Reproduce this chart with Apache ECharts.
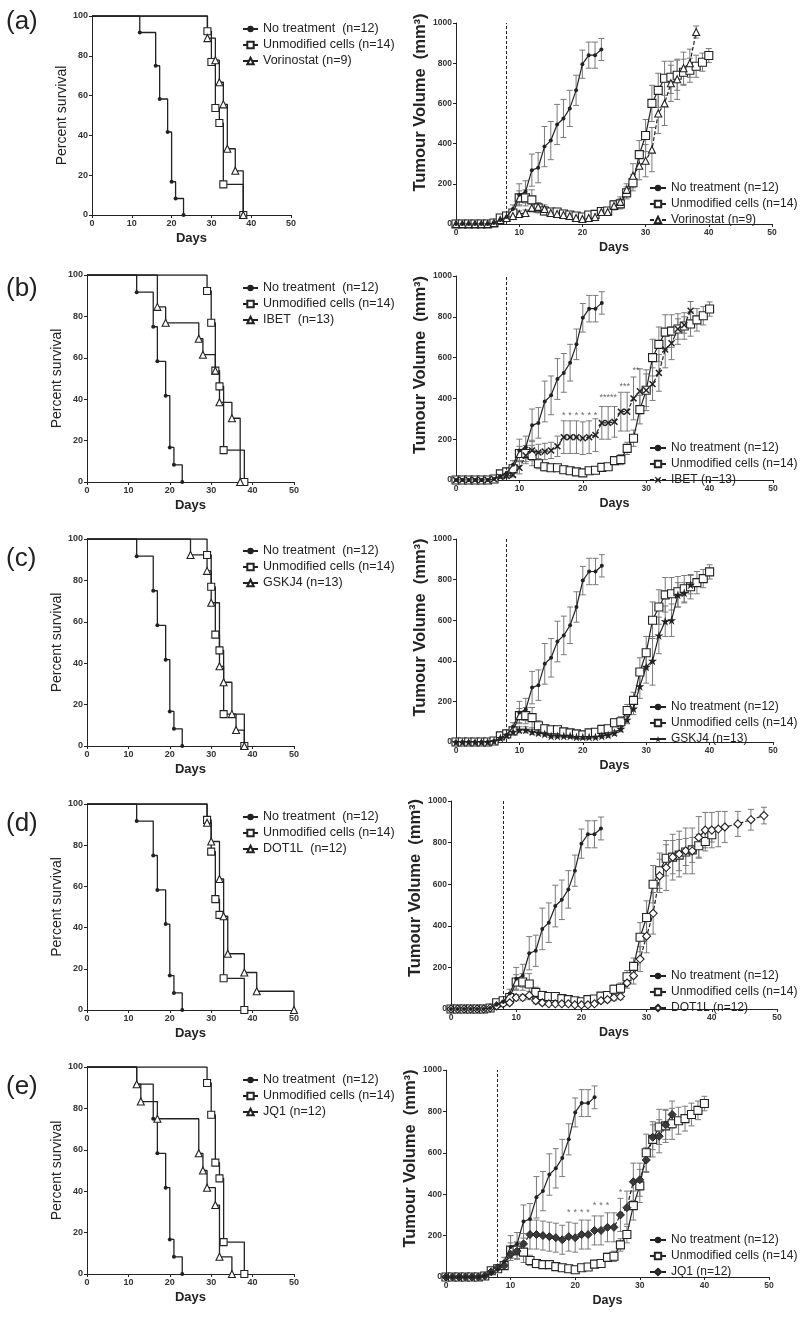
<!DOCTYPE html>
<html><head><meta charset="utf-8">
<script src="https://cdn.jsdelivr.net/npm/echarts@6/dist/echarts.min.js"></script>
<style>html,body{margin:0;padding:0;background:#fff}#c{width:800px;height:1317px}</style>
</head><body><div id="c"></div>
<script>
// ---------------- DATA ----------------
// Kaplan-Meier survival: [day, percent survival]
const noTreatSurv = [[0,100],[12,91.7],[16,75],[17,58.3],[19,41.7],[20,16.7],[21,8.3],[23,0]];
const unmodSurv   = [[0,100],[29,92.3],[30,76.9],[31,53.8],[32,46.2],[33,15.4],[38,0]];
const vorinoSurv  = [[0,100],[29,88.9],[31,77.8],[32,66.7],[33,55.6],[34,33.3],[36,22.2],[38,0]];
const ibetSurv    = [[0,100],[17,84.6],[19,76.9],[27,69.2],[28,61.5],[31,53.8],[32,38.5],[35,30.8],[37,0]];
const gskSurv     = [[0,100],[25,92.3],[29,84.6],[30,69.2],[32,38.5],[33,30.8],[35,15.4],[36,7.7],[38,0]];
const dotSurv     = [[0,100],[29,90.9],[30,81.8],[32,63.6],[33,45.5],[34,27.3],[38,18.2],[41,9.1],[50,0]];
const jqSurv      = [[0,100],[12,91.7],[13,83.3],[17,75],[27,58.3],[28,50],[29,41.7],[31,33.3],[32,8.3],[35,0]];

// Tumour volume (mm3), mean and error, index = day (unless a day list is given)
const noTreatVol = [0,0,0,0,0,0,5,20,35,75,145,160,268,280,385,415,495,525,575,665,795,840,840,868];
const noTreatErr = [0,0,0,0,0,0,3,8,10,20,55,55,80,75,100,95,100,95,90,75,70,65,65,55];
const unmodVol = [0,0,0,0,0,0,5,30,40,55,130,130,120,80,65,60,60,50,45,40,35,45,48,62,65,95,100,155,205,345,440,600,665,725,730,740,755,765,785,805,838];
const unmodErr = [0,0,0,0,0,0,3,10,10,15,35,40,50,25,20,15,15,12,12,12,12,12,12,15,15,20,25,30,40,70,80,90,85,85,80,75,65,60,55,45,35];
const vorinoVol = [0,0,0,0,0,0,5,20,30,40,50,55,80,85,75,55,50,45,40,30,25,30,35,60,60,90,110,170,240,290,315,370,550,600,700,720,775,800,955];
const vorinoErr = [0,0,0,0,0,0,3,8,10,10,15,15,20,20,20,15,15,12,12,10,10,10,10,15,15,20,25,30,60,70,80,110,100,110,90,100,80,70,30];
const ibetVol = [0,0,0,0,0,0,5,15,20,25,60,120,145,135,140,145,165,210,210,210,205,210,220,280,280,285,335,335,400,435,440,470,525,640,670,740,760,830];
const ibetErr = [0,0,0,0,0,0,3,8,10,10,30,40,50,40,40,40,50,80,80,80,80,80,80,80,80,75,95,95,105,110,100,80,90,90,80,50,40,45];
const gskVol = [0,0,0,0,0,0,5,20,35,50,60,60,50,45,40,30,30,30,30,25,25,25,25,30,35,45,65,110,165,275,370,400,525,595,600,725,735,775];
const gskErr = [0,0,0,0,0,0,3,8,10,10,15,15,12,10,10,8,8,8,8,8,8,8,8,8,10,12,15,20,30,60,80,120,90,75,80,60,50,45];
const dotDays = [0,1,2,3,4,5,6,7,8,9,10,11,12,13,14,15,16,17,18,19,20,21,22,23,24,25,26,27,28,29,30,31,32,33,34,35,36,37,38,39,40,41,42,44,46,48];
const dotVol = [0,0,0,0,0,0,5,15,25,30,55,55,65,40,30,25,25,25,25,20,20,20,25,40,45,55,60,125,160,240,350,460,640,680,730,745,760,760,825,860,860,865,875,890,910,930];
const dotErr = [0,0,0,0,0,0,3,8,10,10,15,15,20,15,10,8,8,8,8,8,8,8,8,10,12,15,15,25,40,60,80,100,80,110,110,110,110,110,100,85,85,85,75,60,50,40];
const jqVol = [0,0,0,0,0,0,5,25,45,55,110,125,160,205,205,200,195,190,180,195,190,205,205,225,225,240,240,300,335,460,470,565,675,680,735,785];
const jqErr = [0,0,0,0,0,0,3,10,15,15,30,40,50,70,70,70,70,70,70,70,70,70,70,70,70,70,70,80,80,90,80,60,60,80,70,65];

// significance marks: [day, volume, text]
const ibetStars = [[17,314,'*'],[18,314,'*'],[19,314,'*'],[20,314,'*'],[21,314,'*'],[22,314,'*'],[24,402,'*****'],[26.6,456,'***'],[28.4,539,'**']];
const jqStars = [[19,313,'*'],[20,313,'*'],[21,313,'*'],[22,313,'*'],[23,346,'*'],[24,346,'*'],[25,346,'*'],[27,409,'*']];

const treatDay = 8;
const panelTags = ['(a)','(b)','(c)','(d)','(e)'];
const nameNoTreatL = 'No treatment  (n=12)';
const nameNoTreatR = 'No treatment (n=12)';
const nameUnmod = 'Unmodified cells (n=14)';
const leftNames3  = ['Vorinostat (n=9)','IBET  (n=13)','GSKJ4 (n=13)','DOT1L  (n=12)','JQ1 (n=12)'];
const rightNames3 = ['Vorinostat (n=9)','IBET (n=13)','GSKJ4 (n=13)','DOT1L (n=12)','JQ1 (n=12)'];
const surv3 = [vorinoSurv, ibetSurv, gskSurv, dotSurv, jqSurv];
const vol3 = [vorinoVol, ibetVol, gskVol, dotVol, jqVol];
const err3 = [vorinoErr, ibetErr, gskErr, dotErr, jqErr];
const days3 = [null, null, null, dotDays, null];
const stars3 = [null, ibetStars, null, null, jqStars];

// ---------------- STYLE / LAYOUT ----------------
const FONT = '"Liberation Sans", Arial, Helvetica, sans-serif';
const INK = '#222';
const ERRC = '#7a7a7a';
const leftGrids = [
  {left:92,top:16,width:199,height:199},
  {left:87,top:275,width:207,height:207},
  {left:87,top:539,width:207,height:207},
  {left:87,top:804,width:207,height:206},
  {left:87,top:1067,width:207,height:207}];
const rightGrids = [
  {left:456,top:23,width:316,height:201},
  {left:456,top:276,width:317,height:204},
  {left:456,top:539,width:317,height:203},
  {left:451,top:801,width:326,height:208},
  {left:446,top:1070,width:323,height:207}];
const tagCenters = [20,287,557,822,1085];
const leftLegendTop = [17,276,539,805,1068];
const rightLegendTop = [176,436,695,964,1228];
const rightNameShift = [42,26,26,34,30];

const SYM = {
  dot: {symbol:'circle', symbolSize:4, itemStyle:{color:INK}},
  square: {symbol:'rect', symbolSize:7, itemStyle:{color:'#fff', borderColor:INK, borderWidth:1.1}},
  squareR: {symbol:'rect', symbolSize:8, itemStyle:{color:'#fff', borderColor:INK, borderWidth:1.1}},
  tri: {symbol:'triangle', symbolSize:7, itemStyle:{color:'#fff', borderColor:INK, borderWidth:1.1}},
  cross: {symbol:'path://M0,1.5L1.5,0L5,3.5L8.5,0L10,1.5L6.5,5L10,8.5L8.5,10L5,6.5L1.5,10L0,8.5L3.5,5Z', symbolSize:7, itemStyle:{color:INK}},
  star: {symbol:'path://M50,0L61,35L98,35L68,57L79,91L50,70L21,91L32,57L2,35L39,35Z', symbolSize:9, itemStyle:{color:INK}},
  diamondOpen: {symbol:'diamond', symbolSize:8, itemStyle:{color:'#fff', borderColor:INK, borderWidth:1.1}},
  diamondFill: {symbol:'diamond', symbolSize:8, itemStyle:{color:'#3a3a3a', borderColor:INK, borderWidth:1}}
};
const rightSym3 = ['tri','cross','star','diamondOpen','diamondFill'];
const rightDash3 = [true,true,false,true,true];

function renderErr(params, api) {
  const x = api.value(0), y = api.value(1), e = api.value(2);
  if (!e) return null;
  const t = api.coord([x, y + e]), b = api.coord([x, Math.max(0, y - e)]);
  const w = 3;
  const st = {stroke: ERRC, lineWidth: 1};
  return {type:'group', children:[
    {type:'line', shape:{x1:t[0],y1:t[1],x2:b[0],y2:b[1]}, style:st},
    {type:'line', shape:{x1:t[0]-w,y1:t[1],x2:t[0]+w,y2:t[1]}, style:st},
    {type:'line', shape:{x1:b[0]-w,y1:b[1],x2:b[0]+w,y2:b[1]}, style:st}
  ]};
}

const grids = [], xAxes = [], yAxes = [], series = [], legends = [], titles = [];
const tickLabel = (fs) => ({fontSize: fs, fontWeight: 'bold', color: '#333', fontFamily: FONT, margin: 4, formatter: (v) => String(v)});
const axisLine = {show:true, onZero:false, lineStyle:{color:INK, width:1}};
const axisTick = {show:true, length:3, lineStyle:{color:INK, width:1}};

for (let p = 0; p < 5; p++) {
  const gl = 2*p, gr = 2*p+1;
  grids.push(Object.assign({outerBoundsMode:'none', containLabel:false}, leftGrids[p]));
  grids.push(Object.assign({outerBoundsMode:'none', containLabel:false}, rightGrids[p]));
  titles.push({text: panelTags[p], left: 1, top: tagCenters[p]-16,
    textStyle:{fontSize:26, fontWeight:'normal', color:INK, fontFamily:FONT}});

  // left: survival
  xAxes.push({gridIndex:gl, type:'value', min:0, max:50, interval:10, name:'Days', nameLocation:'middle', nameGap:17,
    nameTextStyle:{fontSize:13, fontWeight:'bold', color:INK, fontFamily:FONT},
    axisLine, axisTick, splitLine:{show:false}, axisLabel: tickLabel(9)});
  yAxes.push({gridIndex:gl, type:'value', min:0, max:100, interval:20, name:'Percent survival', nameLocation:'middle', nameGap:22,
    nameTextStyle:{fontSize:14, color:INK, fontFamily:FONT},
    axisLine, axisTick, splitLine:{show:false}, axisLabel: tickLabel(9)});
  // right: tumour volume
  xAxes.push({gridIndex:gr, type:'value', min:0, max:50, interval:10, name:'Days', nameLocation:'middle', nameGap:17,
    nameTextStyle:{fontSize:12.5, fontWeight:'bold', color:INK, fontFamily:FONT},
    axisLine, axisTick, splitLine:{show:false}, axisLabel: tickLabel(8.5)});
  yAxes.push({gridIndex:gr, type:'value', min:0, max:1000, interval:200, name:'Tumour Volume  (mm³)', nameLocation:'middle', nameGap:13,
    nameTextStyle:{fontSize:16.5, fontWeight:'bold', color:INK, fontFamily:FONT, padding:[0,0,0,rightNameShift[p]]},
    axisLine, axisTick, splitLine:{show:false}, axisLabel: tickLabel(8.5)});

  const kmData = (arr) => arr.map((d,i) => i === 0 ? {value:d, symbol:'none'} : d);
  const kmSeries = (name, arr, s) => Object.assign({
    type:'line', name, xAxisIndex:gl, yAxisIndex:gl, step:'end', data: kmData(arr),
    lineStyle:{color:INK, width:1.3}, z:3
  }, JSON.parse(JSON.stringify(SYM[s])));
  const lNames = ['L'+p+'|'+nameNoTreatL, 'L'+p+'|'+nameUnmod, 'L'+p+'|'+leftNames3[p]];
  series.push(kmSeries(lNames[0], noTreatSurv, 'dot'));
  series.push(kmSeries(lNames[1], unmodSurv, 'square'));
  series.push(kmSeries(lNames[2], surv3[p], 'tri'));

  const rNames = ['R'+p+'|'+nameNoTreatR, 'R'+p+'|'+nameUnmod, 'R'+p+'|'+rightNames3[p]];
  const groups = [
    {name:rNames[0], vol:noTreatVol, err:noTreatErr, days:null, sym:'dot', dash:false},
    {name:rNames[1], vol:unmodVol, err:unmodErr, days:null, sym:'squareR', dash:false},
    {name:rNames[2], vol:vol3[p], err:err3[p], days:days3[p], sym:rightSym3[p], dash:rightDash3[p]}
  ];
  groups.forEach((g, gi) => {
    const dx = (i) => g.days ? g.days[i] : i;
    series.push({type:'custom', xAxisIndex:gr, yAxisIndex:gr, renderItem: renderErr, silent:true, z:1,
      encode:{x:0, y:1}, data: g.vol.map((v,i) => [dx(i), v, g.err[i]])});
    const s = Object.assign({type:'line', name:g.name, xAxisIndex:gr, yAxisIndex:gr,
      data: g.vol.map((v,i) => [dx(i), v]),
      lineStyle:{color:INK, width:1.2, type: g.dash ? [4,2] : 'solid'}, z:3 + (gi===0?2:0)},
      JSON.parse(JSON.stringify(SYM[g.sym])));
    if (gi === 0) {
      s.markLine = {silent:true, symbol:['none','none'], label:{show:false},
        lineStyle:{type:[3,2], color:INK, width:1}, data:[{xAxis: treatDay}]};
    }
    series.push(s);
  });
  if (stars3[p]) {
    series.push({type:'scatter', xAxisIndex:gr, yAxisIndex:gr, symbolSize:0, silent:true, z:6,
      data: stars3[p], encode:{x:0,y:1},
      label:{show:true, position:'inside', formatter:(q)=>q.data[2], fontSize:9, color:'#444', fontFamily:FONT}});
  }

  const fmt = (n) => n.slice(n.indexOf('|')+1);
  legends.push({orient:'vertical', left:237, top:leftLegendTop[p], itemWidth:15, itemHeight:8, itemGap:2,
    selectedMode:false, formatter: fmt, data: lNames,
    textStyle:{fontSize:12.5, color:INK, fontFamily:FONT, lineHeight:14}});
  legends.push({orient:'vertical', left:644, top:rightLegendTop[p], itemWidth:16, itemHeight:8, itemGap:2,
    selectedMode:false, formatter: fmt, data: rNames,
    textStyle:{fontSize:12, color:INK, fontFamily:FONT, lineHeight:14}});
}

const chart = echarts.init(document.getElementById('c'), null, {renderer:'canvas'});
chart.setOption({
  animation:false, backgroundColor:'#fff',
  textStyle:{fontFamily:FONT},
  title: titles, grid: grids, xAxis: xAxes, yAxis: yAxes, legend: legends, series
});
</script></body></html>
